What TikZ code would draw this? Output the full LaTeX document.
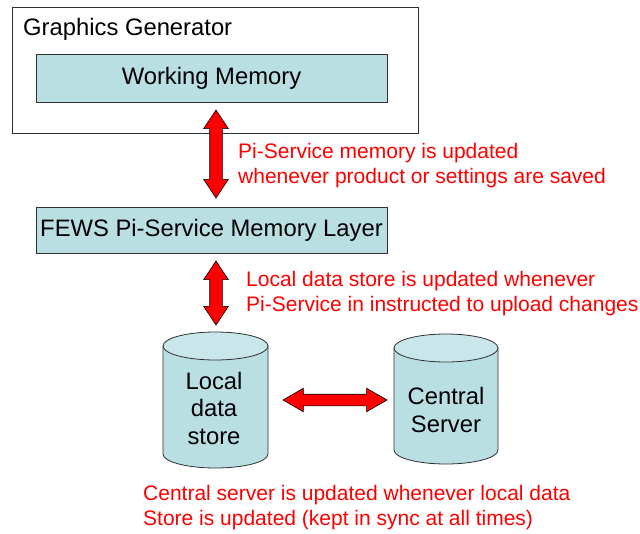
\documentclass[tikz,border=0pt]{standalone}
\usepackage{fontspec}
\setmainfont{Liberation Sans}
\usetikzlibrary{shapes.arrows}
\definecolor{boxfill}{HTML}{B9DFE3}
\definecolor{capfill}{HTML}{C9E7EA}
\definecolor{outl}{HTML}{303030}
\tikzset{
  blk/.style={font=\fontsize{23.8}{27.5}\selectfont, text=black},
  redtxt/.style={font=\fontsize{21}{24.8}\selectfont, text=red, align=left, anchor=north west, inner sep=0pt},
  tealbox/.style={draw=outl, line width=0.8pt, fill=boxfill, inner sep=0pt},
  dblarr/.style={double arrow, draw=black, line width=0.6pt, fill=red, inner sep=6pt,
     double arrow head extend=6pt, double arrow tip angle=67, double arrow head indent=0pt},
  cylbody/.style={draw=outl, line width=0.8pt, fill=boxfill},
  cylcap/.style={draw=outl, line width=0.8pt, fill=capfill},
}
\begin{document}
\begin{tikzpicture}[x=1pt,y=-1pt]
\useasboundingbox (0,0) rectangle (640,533);
% outer container
\node[draw=outl, line width=0.8pt, minimum width=406pt, minimum height=126pt, inner sep=0pt] (gg) at (215,70) {};
\node[blk, anchor=base west, inner sep=0pt] (ggt) at (23,35) {Graphics Generator};
\node[tealbox, blk, minimum width=351pt, minimum height=48pt] (wm) at (211.5,78) {Working Memory};
\node[tealbox, blk, minimum width=351pt, minimum height=46pt] (fews) at (211.5,230) {FEWS Pi-Service Memory Layer};
% cylinders
\path[cylbody] (163,346) -- (163,454) arc[start angle=180, end angle=360, x radius=52.5pt, y radius=14pt] -- (268,346) -- cycle;
\path[cylcap] (215.5,346) ellipse[x radius=52.5pt, y radius=14pt];
\node[blk, align=center, inner sep=0pt] (local) at (214,408) {Local\\data\\store};
\path[cylbody] (394,348) -- (394,450) arc[start angle=180, end angle=360, x radius=52pt, y radius=14pt] -- (498,348) -- cycle;
\path[cylcap] (446,348) ellipse[x radius=52pt, y radius=14pt];
\node[blk, align=center, inner sep=0pt] (central) at (446,410) {Central\\Server};
% block arrows
\node[dblarr, minimum height=88pt, rotate=90] (a1) at (216,154) {};
\node[dblarr, minimum height=64pt, rotate=90] (a2) at (216,293) {};
\node[dblarr, minimum height=104pt, inner sep=5.5pt, double arrow tip angle=60] (a3) at (335,400) {};
% annotations
\node[redtxt] (t1) at (238,143) {Pi-Service memory is updated\\whenever product or settings are saved};
\node[redtxt] (t2) at (246,271.5) {Local data store is updated whenever\\Pi-Service in instructed to upload changes};
\node[redtxt] (t3) at (143,485.4) {Central server is updated whenever local data\\Store is updated (kept in sync at all times)};
\end{tikzpicture}
\end{document}
